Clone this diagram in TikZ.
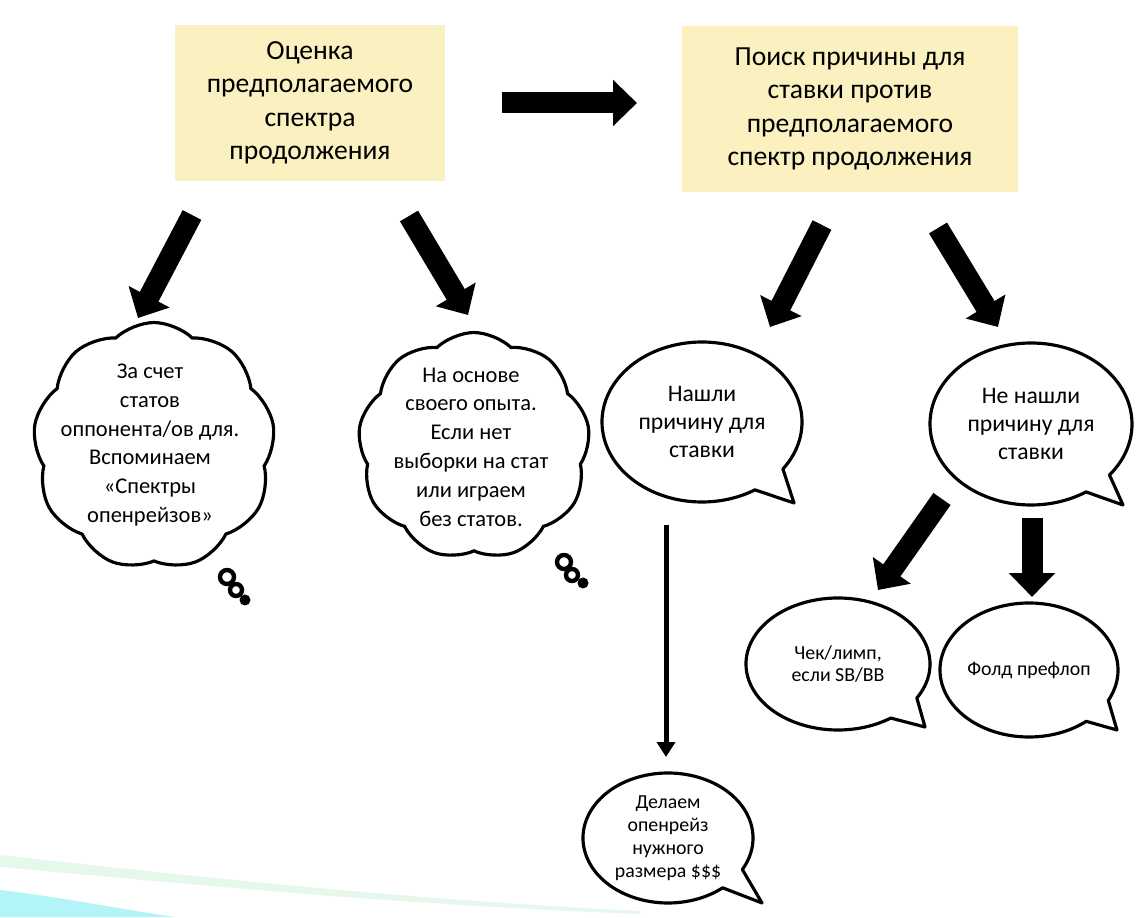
\documentclass[tikz,border=0pt]{standalone}
\usepackage{fontspec}
\setmainfont{Carlito}
\usepackage{xcolor}
\usetikzlibrary{positioning, arrows.meta, shapes.geometric, shapes.symbols}
\definecolor{boxyellow}{RGB}{250,240,192}
\definecolor{swooshcyan}{RGB}{178,244,248}
\definecolor{swooshgreen}{RGB}{230,248,235}

\begin{document}
\begin{tikzpicture}[x=0.02cm, y=0.02cm,
    yellowbox/.style={fill=boxyellow, align=center, inner sep=0pt, font=\fontsize{15.7}{19}\selectfont},
    fatarrow/.style={line width=0.42cm, -{Triangle[width=0.9cm, length=0.48cm]}},
    thinkcloud/.style={cloud, draw, line width=1.8pt, cloud puffs=9, cloud puff arc=88, cloud ignores aspect, inner sep=0pt},
    cloudtext/.style={align=center, font=\fontsize{12.8}{16.4}\selectfont},
    bubble/.style={line width=1.8pt, line join=round},
    bubtext/.style={ellipse, align=center, inner sep=0pt, font=\fontsize{13.5}{16.2}\selectfont},
    smalltext/.style={ellipse, align=center, inner sep=0pt, font=\fontsize{11.3}{13}\selectfont}]

    \useasboundingbox (0,0) rectangle (1140,917);

    % Swoosh in the bottom left corner
    \fill[swooshgreen] (0,62) .. controls (200,40) and (400,18) .. (640,6) -- (640,3) .. controls (400,12) and (200,32) .. (0,50) -- cycle;
    \fill[swooshcyan] (0,0) -- (0,27) .. controls (60,20) and (120,8) .. (175,0) -- cycle;

    % Top boxes
    \node[yellowbox, minimum width=5.4cm, minimum height=3.14cm] (est) at (310,814)
        {Оценка\\предполагаемого\\спектра\\продолжения};
    \node[yellowbox, minimum width=6.72cm, minimum height=3.34cm] (search) at (850,808)
        {Поиск причины для\\ставки против\\предполагаемого\\спектр продолжения};

    % Thought clouds
    \node[thinkcloud, minimum width=4.84cm, minimum height=4.94cm] (stats) at (154,471) {};
    \node[cloudtext] (statstxt) at (150,472)
        {За счет\\статов\\оппонента/ов для.\\Вспоминаем\\«Спектры\\опенрейзов»};
    \node[thinkcloud, minimum width=4.64cm, minimum height=4.54cm] (exp) at (474,471) {};
    \node[cloudtext] (exptxt) at (471,470)
        {На основе\\своего опыта.\\Если нет\\выборки на стат\\или играем\\без статов.};

    % Thought dots
    \draw[line width=2.5pt] (227,340) circle[radius=7];
    \draw[line width=2.5pt] (236,327) circle[radius=6];
    \fill (245,317) circle[radius=5.5];
    \draw[line width=2.5pt] (564,355) circle[radius=7];
    \draw[line width=2.5pt] (572,342) circle[radius=6];
    \fill (583,334) circle[radius=5.5];

    % Speech bubbles
    \node[bubtext, minimum width=4cm, minimum height=3.2cm] (found) at (702,495)
        {Нашли\\причину для\\ставки};
    \coordinate (foundtip) at (794,414);
    \draw[bubble] (found.center) ++(-36:100 and 80)
        arc[start angle=-36, end angle=302, x radius=100, y radius=80] -- (foundtip) -- cycle;

    \node[bubtext, minimum width=4.04cm, minimum height=3.24cm] (notfound) at (1031,493)
        {Не нашли\\причину для\\ставки};
    \coordinate (notfoundtip) at (1123,412);
    \draw[bubble] (notfound.center) ++(-39:101 and 81)
        arc[start angle=-39, end angle=303, x radius=101, y radius=81] -- (notfoundtip) -- cycle;

    \node[smalltext, minimum width=3.68cm, minimum height=2.64cm] (check) at (838,253)
        {Чек/лимп,\\если SB/BB};
    \coordinate (checktip) at (925,190);
    \draw[bubble] (check.center) ++(-31:92 and 66)
        arc[start angle=-31, end angle=305, x radius=92, y radius=66] -- (checktip) -- cycle;

    \node[smalltext, minimum width=3.56cm, minimum height=2.68cm] (fold) at (1029,247)
        {Фолд префлоп};
    \coordinate (foldtip) at (1117,187);
    \draw[bubble] (fold.center) ++(-27:89 and 67)
        arc[start angle=-27, end angle=310, x radius=89, y radius=67] -- (foldtip) -- cycle;

    \node[smalltext, minimum width=3.4cm, minimum height=2.6cm] (raise) at (668,79)
        {Делаем\\опенрейз\\нужного\\размера \$\$\$};
    \coordinate (raisetip) at (762,14);
    \draw[bubble] (raise.center) ++(-29:85 and 65)
        arc[start angle=-29, end angle=310, x radius=85, y radius=65] -- (raisetip) -- cycle;

    % Arrow ends
    \coordinate (a1s) at (192,702); \coordinate (a1e) at (138,599);
    \coordinate (a2s) at (409,701); \coordinate (a2e) at (468,602);
    \coordinate (a3s) at (822,692); \coordinate (a3e) at (770,590);
    \coordinate (a4s) at (938,689); \coordinate (a4e) at (998,590);
    \coordinate (a5s) at (942,418); \coordinate (a5e) at (878,327);
    \coordinate (a6s) at (1032,399); \coordinate (a6e) at (1032,320);
    \coordinate (rs) at (502,814); \coordinate (re) at (637,814);
    \coordinate (ts) at (666,392); \coordinate (te) at (666,160);

    % Arrows
    \draw[fatarrow] (rs) -- (re);
    \draw[fatarrow] (a1s) -- (a1e);
    \draw[fatarrow] (a2s) -- (a2e);
    \draw[fatarrow] (a3s) -- (a3e);
    \draw[fatarrow] (a4s) -- (a4e);
    \draw[fatarrow] (a5s) -- (a5e);
    \draw[fatarrow] (a6s) -- (a6e);
    \draw[line width=0.1cm, -{Triangle[width=0.36cm, length=0.3cm]}] (ts) -- (te);

\end{tikzpicture}
\end{document}
